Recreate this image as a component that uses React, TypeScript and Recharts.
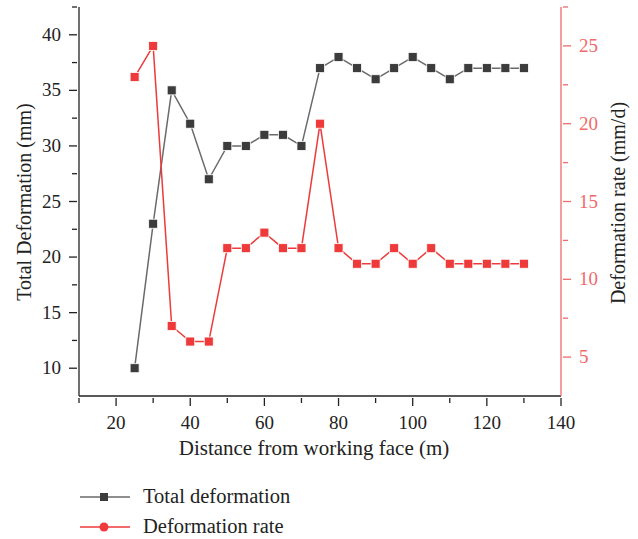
import React from 'react';
import { ComposedChart, Line, XAxis, YAxis } from 'recharts';

const distance = [25, 30, 35, 40, 45, 50, 55, 60, 65, 70, 75, 80, 85, 90, 95, 100, 105, 110, 115, 120, 125, 130];
const totalDeformation = [10, 23, 35, 32, 27, 30, 30, 31, 31, 30, 37, 38, 37, 36, 37, 38, 37, 36, 37, 37, 37, 37];
const deformationRate = [23, 25, 7, 6, 6, 12, 12, 13, 12, 12, 20, 12, 11, 11, 12, 11, 12, 11, 11, 11, 11, 11];

const xTicks = [10, 20, 30, 40, 50, 60, 70, 80, 90, 100, 110, 120, 130, 140];
const xLabeled = [20, 40, 60, 80, 100, 120, 140];
const leftTicks = [10, 12.5, 15, 17.5, 20, 22.5, 25, 27.5, 30, 32.5, 35, 37.5, 40, 42.5];
const leftLabeled = [10, 15, 20, 25, 30, 35, 40];
const rightTicks = [5, 7.5, 10, 12.5, 15, 17.5, 20, 22.5, 25, 27.5];
const rightLabeled = [5, 10, 15, 20, 25];

const data = distance.map((d, i) => ({ distance: d, total: totalDeformation[i], rate: deformationRate[i] }));

const FONT = '"Liberation Serif", "DejaVu Serif", serif';
const GRAY_LINE = '#6a6a6a';
const GRAY_MARK = '#3c3c3c';
const RED = '#ee3a3a';
const RED_AXIS = '#f06a6a';
const DARK = '#222';
const TICK_FS = 19;

const XTick = (props: any) => {
  const { x, y, payload } = props;
  const major = xLabeled.includes(payload.value);
  return (
    <g>
      <line x1={x} y1={y} x2={x} y2={y + (major ? 8 : 5)} stroke={DARK} strokeWidth={1.3} />
      {major && (
        <text x={x} y={y + 31} textAnchor="middle" fontFamily={FONT} fontSize={TICK_FS} fill={DARK}>
          {payload.value}
        </text>
      )}
    </g>
  );
};

const LeftTick = (props: any) => {
  const { x, y, payload } = props;
  const major = leftLabeled.includes(payload.value);
  return (
    <g>
      <line x1={x} y1={y} x2={x - (major ? 8 : 5)} y2={y} stroke={DARK} strokeWidth={1.3} />
      {major && (
        <text x={x - 16} y={y + 6} textAnchor="end" fontFamily={FONT} fontSize={TICK_FS} fill={DARK}>
          {payload.value}
        </text>
      )}
    </g>
  );
};

const RightTick = (props: any) => {
  const { x, y, payload } = props;
  const major = rightLabeled.includes(payload.value);
  return (
    <g>
      <line x1={x} y1={y} x2={x + (major ? 8 : 5)} y2={y} stroke={RED_AXIS} strokeWidth={1.3} />
      {major && (
        <text x={x + 16} y={y + 6} textAnchor="start" fontFamily={FONT} fontSize={TICK_FS} fill={RED_AXIS}>
          {payload.value}
        </text>
      )}
    </g>
  );
};

const squareDot = (fill: string) => (props: any) => {
  const { cx, cy, index } = props;
  if (cx == null || cy == null) return <g key={index} />;
  return <rect key={index} x={cx - 4.5} y={cy - 4.5} width={9} height={9} fill={fill} stroke="#fff" strokeWidth={0.8} />;
};

export default function App() {
  return (
    <div style={{ position: 'absolute', left: 0, top: 0, width: 638, height: 539, background: '#fff' }}>
      <ComposedChart
        width={638}
        height={539}
        data={data}
        margin={{ top: 7, right: 17, left: 19, bottom: 103 }}
      >
        <XAxis
          type="number"
          dataKey="distance"
          domain={[10, 140]}
          ticks={xTicks}
          interval={0}
          tickSize={0}
          tickLine={false}
          tick={<XTick />}
          axisLine={{ stroke: DARK, strokeWidth: 1.3 }}
          height={40}
          allowDataOverflow
        />
        <YAxis
          yAxisId="left"
          domain={[7.5, 42.5]}
          ticks={leftTicks}
          interval={0}
          tickSize={0}
          tickLine={false}
          tick={<LeftTick />}
          axisLine={{ stroke: DARK, strokeWidth: 1.3 }}
          width={60}
          allowDataOverflow
        />
        <YAxis
          yAxisId="right"
          orientation="right"
          domain={[2.5, 27.5]}
          ticks={rightTicks}
          interval={0}
          tickSize={0}
          tickLine={false}
          tick={<RightTick />}
          axisLine={{ stroke: RED_AXIS, strokeWidth: 1.3 }}
          width={60}
          allowDataOverflow
        />
        <Line
          yAxisId="left"
          type="linear"
          dataKey="total"
          stroke={GRAY_LINE}
          strokeWidth={1.5}
          dot={squareDot(GRAY_MARK)}
          activeDot={false}
          isAnimationActive={false}
        />
        <Line
          yAxisId="right"
          type="linear"
          dataKey="rate"
          stroke={RED}
          strokeWidth={1.5}
          dot={squareDot(RED)}
          activeDot={false}
          isAnimationActive={false}
        />
      </ComposedChart>
      <svg
        width={638}
        height={539}
        style={{ position: 'absolute', left: 0, top: 0, pointerEvents: 'none' }}
      >
        <text
          x={0}
          y={0}
          transform="translate(31,202) rotate(-90)"
          textAnchor="middle"
          fontFamily={FONT}
          fontSize={20}
          fill={DARK}
        >
          Total Deformation (mm)
        </text>
        <text
          x={0}
          y={0}
          transform="translate(625,203) rotate(-90)"
          textAnchor="middle"
          fontFamily={FONT}
          fontSize={20}
          fill={DARK}
        >
          Deformation rate (mm/d)
        </text>
        <text x={314} y={455} textAnchor="middle" fontFamily={FONT} fontSize={21} fill={DARK}>
          Distance from working face (m)
        </text>
        <line x1={80} y1={497} x2={130} y2={497} stroke={GRAY_LINE} strokeWidth={1.5} />
        <rect x={100} y={493} width={8} height={8} fill={GRAY_MARK} />
        <text x={143} y={503} fontFamily={FONT} fontSize={20.5} fill={DARK}>
          Total deformation
        </text>
        <line x1={80} y1={527} x2={130} y2={527} stroke={RED} strokeWidth={1.5} />
        <circle cx={104} cy={527} r={4.5} fill={RED} />
        <text x={143} y={533} fontFamily={FONT} fontSize={20.5} fill={DARK}>
          Deformation rate
        </text>
      </svg>
    </div>
  );
}
